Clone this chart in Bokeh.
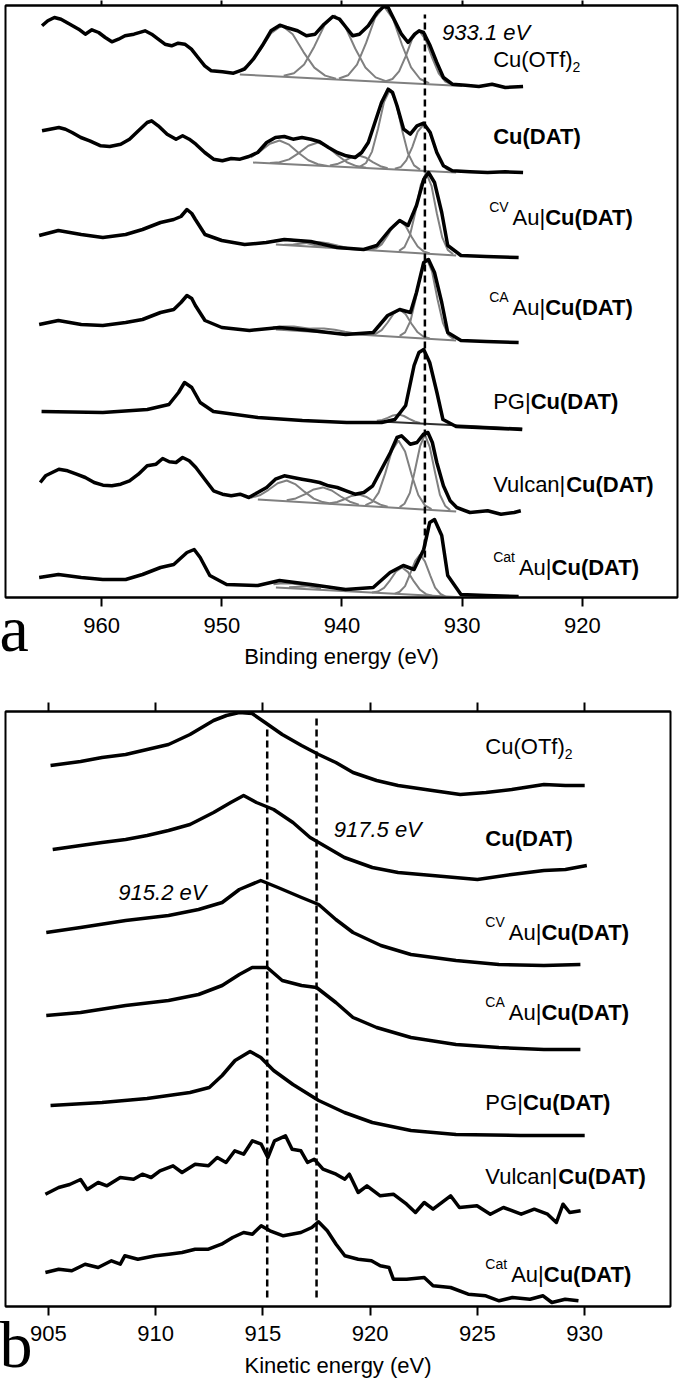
from bokeh.plotting import figure
from bokeh.models import Range1d, FixedTicker, LinearAxis
from bokeh.layouts import column
from bokeh.embed import file_html
from bokeh.resources import INLINE
from bokeh.core.properties import value

FONT = "Liberation Sans"
SERIF = "Liberation Serif"

# ---------------- panel a : Cu 2p XPS (binding energy, eV ; stacked intensity, a.u.) -------------
TICKS_A = [960, 950, 940, 930, 920]
TICKS_B = [905, 910, 915, 920, 925, 930]
MARK_A = [933.1]
MARK_B = [915.2, 917.5]

A1_E = [964.96, 964.48, 963.93, 963.38, 962.64, 961.91, 961.36, 960.81, 960.25, 959.70,
        959.15, 958.60, 958.05, 957.31, 956.39, 955.84, 955.29, 954.73, 954.18, 953.63,
        953.08, 952.53, 951.98, 951.42, 950.87, 949.95, 949.03, 948.11, 947.38, 946.64,
        945.91, 945.17, 944.62, 943.70, 942.96, 942.23, 941.49, 940.76, 940.20, 939.65,
        939.10, 938.55, 937.81, 937.08, 936.52, 936.16, 935.61, 935.05, 934.50, 933.95,
        933.58, 933.21, 932.66, 932.11, 931.56, 930.82, 929.72, 928.61, 927.51, 926.41, 924.93]
A1_I = [571.7, 576.7, 580.0, 578.3, 573.3, 568.3, 563.3, 567.7, 565.0, 560.0,
        555.7, 558.3, 561.7, 563.3, 566.7, 563.3, 558.3, 553.3, 551.7, 554.3,
        553.3, 548.3, 540.0, 531.7, 526.7, 525.7, 524.3, 528.3, 538.3, 551.7,
        566.7, 572.3, 570.0, 566.7, 561.7, 563.3, 573.3, 581.0, 578.3, 570.0,
        561.7, 563.3, 571.7, 585.0, 591.0, 590.0, 576.7, 563.3, 555.0, 563.3,
        566.7, 565.0, 551.7, 535.0, 520.0, 513.3, 512.3, 511.0, 513.3, 510.0, 511.0]
A1_FIT_E = [[948.6, 947.7, 946.8, 945.9, 945.0, 944.1, 943.2, 942.3, 941.4, 940.5],
            [944.85, 944.0, 943.15, 942.3, 941.45, 940.6, 939.75, 938.9, 938.05, 937.2, 936.35],
            [940.25, 939.5, 938.75, 938.0, 937.25, 936.5, 935.75, 935.0, 934.25, 933.5, 932.75],
            [936.35, 935.8, 935.25, 934.7, 934.15, 933.6, 933.05, 932.5, 931.95, 931.4, 930.85]]
A1_FIT_I = [[526.3, 533.2, 547.6, 564.4, 572.0, 563.3, 545.4, 529.9, 521.9, 518.8],
            [521.7, 524.3, 533.1, 551.1, 572.4, 582.0, 571.4, 549.0, 530.0, 520.1, 516.4],
            [519.0, 522.2, 532.9, 554.3, 579.5, 591.0, 578.5, 552.5, 530.1, 518.5, 514.4],
            [516.3, 518.5, 526.1, 541.2, 558.9, 567.0, 558.2, 539.8, 524.1, 515.8, 512.9]]
A1_BG_E = [948.5, 930.0]
A1_BG_I = [523.0, 511.5]

A2_E = [964.96, 964.30, 963.56, 963.01, 962.46, 961.73, 960.99, 960.07, 959.33, 958.41,
        957.68, 956.94, 956.21, 955.84, 955.29, 954.55, 953.81, 953.26, 952.71, 952.16,
        951.42, 950.69, 949.95, 949.22, 948.48, 947.75, 947.01, 946.27, 945.54, 944.80,
        944.07, 943.33, 942.59, 941.86, 941.12, 940.39, 939.65, 938.91, 938.36, 937.81,
        937.26, 936.71, 936.16, 935.79, 935.42, 934.87, 934.32, 933.76, 933.21, 932.66,
        932.11, 931.56, 930.82, 929.35, 927.88, 926.41, 924.93]
A2_I = [466.7, 468.3, 470.0, 468.3, 465.0, 460.0, 456.7, 451.7, 451.0, 453.3,
        458.3, 466.7, 475.0, 476.7, 471.7, 463.3, 458.3, 461.7, 458.3, 453.3,
        445.0, 438.3, 436.7, 439.0, 438.3, 441.0, 445.0, 455.0, 460.0, 461.0,
        458.3, 460.0, 458.3, 455.7, 450.0, 445.0, 441.7, 440.0, 445.0, 455.0,
        475.0, 495.0, 508.3, 505.0, 491.7, 468.3, 463.3, 471.7, 474.3, 465.0,
        445.0, 431.7, 426.7, 425.7, 425.0, 425.7, 425.0]
A2_FIT_E = [[947.6, 946.8, 946.0, 945.2, 944.4, 943.6, 942.8, 942.0, 941.2],
            [946.0, 945.2, 944.4, 943.6, 942.8, 942.0, 941.2, 940.4, 939.6, 938.8, 938.0],
            [941.0, 940.4, 939.8, 939.2, 938.6, 938.0, 937.4, 936.8, 936.2],
            [938.5, 938.0, 937.5, 937.0, 936.5, 936.0, 935.5, 935.0, 934.5, 934.0, 933.5],
            [935.6, 935.1, 934.65, 934.15, 933.7, 933.2, 932.7, 932.25, 931.75, 931.3, 930.8]]
A2_FIT_I = [[440.0, 446.3, 453.8, 457.0, 452.8, 444.5, 437.2, 433.3, 431.6],
            [434.5, 435.2, 438.1, 444.4, 451.8, 455.0, 450.8, 442.5, 435.3, 431.4, 429.8],
            [432.0, 433.4, 436.6, 440.4, 442.0, 439.7, 435.2, 431.3, 429.2],
            [430.8, 434.5, 445.9, 468.8, 495.6, 508.0, 495.0, 467.6, 444.1, 432.1, 427.9],
            [428.7, 430.6, 437.2, 450.4, 465.9, 473.0, 465.3, 449.3, 435.5, 428.4, 425.8]]
A2_BG_E = [947.4, 930.5]
A2_BG_I = [435.0, 425.0]

A3_E = [965.2, 963.6, 961.7, 959.9, 958.0, 956.6, 955.1, 954.0, 953.4, 952.9, 952.5, 952.2, 951.4, 950.0, 948.1,
        946.3, 944.8, 942.6, 940.4, 938.2, 937.1, 936.0, 935.2, 934.5, 933.8, 933.2, 932.8, 932.3, 931.7, 931.2,
        930.1, 928.0, 925.3]
A3_I = [362, 367, 363, 360, 363, 368, 375, 378, 381, 388, 384, 378, 363, 357, 353,
        355, 358, 356, 350, 348, 352, 368, 377, 372, 392, 418, 425, 415, 385, 352,
        342, 341, 340]
A3_FIT_E = [[945.8, 945.05, 944.3, 943.55, 942.8, 942.05, 941.3],
            [944.8, 944.05, 943.3, 942.55, 941.8, 941.05, 940.3, 939.55, 938.8],
            [937.7, 937.2, 936.7, 936.2, 935.7, 935.2, 934.7, 934.2, 933.7, 933.2, 932.7],
            [935.25, 934.8, 934.35, 933.9, 933.45, 933.0, 932.55, 932.1, 931.65, 931.2, 930.75]]
A3_FIT_I = [[356.2, 357.7, 358.1, 356.6, 354.0, 351.8, 350.3],
            [352.8, 353.0, 353.9, 355.0, 355.3, 353.9, 351.7, 349.6, 348.4],
            [347.7, 348.9, 353.1, 362.0, 372.3, 377.0, 371.6, 360.5, 351.0, 346.0, 344.0],
            [346.6, 350.3, 361.9, 385.1, 412.4, 424.9, 411.7, 383.8, 359.8, 347.6, 343.3]]
A3_BG_E = [945.5, 930.5]
A3_BG_I = [353.0, 342.0]

A4_E = [965.2, 963.6, 961.7, 959.9, 958.0, 956.6, 955.1, 954.0, 953.4, 952.9, 952.5, 952.2, 951.4, 950.0, 947.7,
        945.2, 942.6, 939.7, 937.4, 936.2, 935.2, 934.3, 933.8, 933.2, 932.8, 932.3, 931.7, 931.2, 930.1, 928.0,
        925.3]
A4_I = [273, 277, 273, 272, 275, 278, 285, 288, 295, 302, 299, 292, 277, 270, 267,
        270, 267, 263, 265, 282, 288, 285, 305, 335, 338, 325, 295, 265, 257, 256,
        255]
A4_FIT_E = [[945.75, 944.9, 944.0, 943.1, 942.25, 941.4],
            [944.1, 943.25, 942.4, 941.5, 940.6, 939.75, 938.9, 938.0],
            [937.7, 937.2, 936.7, 936.2, 935.7, 935.2, 934.7, 934.2, 933.7, 933.2, 932.7],
            [935.2, 934.75, 934.3, 933.85, 933.4, 932.95, 932.5, 932.05, 931.6, 931.15, 930.7]]
A4_FIT_I = [[270.2, 271.0, 270.9, 269.6, 267.6, 265.8],
            [267.8, 268.4, 269.1, 269.1, 267.8, 265.8, 264.0, 262.8],
            [262.7, 263.6, 267.3, 275.0, 283.9, 288.0, 283.2, 273.5, 265.2, 260.7, 259.0],
            [261.6, 265.1, 276.6, 299.5, 326.4, 338.8, 325.8, 298.1, 274.6, 262.5, 258.3]]
A4_BG_E = [945.5, 930.5]
A4_BG_I = [268.0, 257.0]

A5_E = [965.0, 959.9, 956.2, 954.4, 953.6, 953.1, 952.5, 951.8, 950.7, 947.0, 943.3, 939.6, 936.7, 935.6, 934.7,
        934.0, 933.6, 933.2, 932.7, 932.1, 931.6, 930.5, 925.0]
A5_I = [186, 185, 188, 193, 205, 215, 210, 195, 186, 180, 177, 175, 175, 178, 192,
        232, 245, 248, 235, 205, 178, 171, 168]
A5_FIT_E = [[937.1, 936.65, 936.2, 935.75, 935.3, 934.85, 934.4, 933.95, 933.5]]
A5_FIT_I = [[176.7, 177.6, 179.6, 182.1, 183.1, 181.5, 178.6, 176.0, 174.5]]
A5_BG_E = [936.8, 925.0]
A5_BG_I = [176.0, 169.0]

A6_E = [965.11, 964.67, 963.56, 962.83, 962.09, 961.36, 960.62, 959.89, 959.15, 958.41,
        957.68, 956.94, 956.21, 955.47, 954.92, 954.37, 953.81, 953.26, 952.71, 952.16,
        951.42, 950.69, 949.95, 949.22, 948.48, 947.75, 947.01, 946.27, 945.54, 944.80,
        944.07, 943.33, 942.59, 941.86, 941.12, 940.39, 939.65, 938.91, 938.18, 937.44,
        936.71, 935.97, 935.42, 935.05, 934.32, 933.76, 933.21, 932.85, 932.48, 932.11,
        931.56, 931.00, 930.45, 929.35, 927.88, 926.77, 925.67, 925.12]
A6_I = [115.0, 121.7, 128.3, 126.7, 123.3, 120.0, 115.0, 112.3, 111.7, 113.3,
        116.7, 123.3, 131.7, 133.3, 139.0, 135.7, 135.0, 140.0, 136.7, 130.0,
        118.3, 106.7, 103.3, 101.7, 103.3, 100.0, 105.0, 110.0, 118.3, 121.7,
        120.0, 118.3, 116.7, 115.0, 111.7, 110.0, 106.7, 103.3, 105.0, 111.7,
        128.3, 145.0, 160.0, 161.7, 153.3, 155.0, 163.3, 165.0, 155.0, 135.0,
        111.7, 96.7, 90.0, 85.0, 86.7, 83.3, 85.0, 86.7]
A6_FIT_E = [[947.6, 946.85, 946.1, 945.35, 944.6, 943.85, 943.1, 942.35, 941.6, 940.85],
            [944.6, 943.85, 943.1, 942.35, 941.6, 940.85, 940.1, 939.35, 938.6],
            [941.0, 940.4, 939.8, 939.2, 938.6, 938.0, 937.4, 936.8, 936.2],
            [938.05, 937.5, 936.95, 936.4, 935.85, 935.3, 934.75, 934.2, 933.65, 933.1, 932.55],
            [935.2, 934.8, 934.35, 933.95, 933.5, 933.1, 932.7, 932.25, 931.85, 931.4, 931.0]]
A6_FIT_I = [[99.7, 102.2, 107.7, 114.2, 117.0, 113.1, 105.6, 98.9, 95.4, 93.8],
            [97.3, 99.1, 103.2, 108.1, 110.1, 107.0, 101.0, 95.8, 92.9],
            [94.3, 95.5, 98.3, 101.6, 102.9, 100.8, 96.5, 92.9, 90.8],
            [92.4, 95.3, 104.9, 124.1, 146.7, 157.0, 145.9, 122.5, 102.5, 92.1, 88.4],
            [90.4, 93.8, 104.6, 126.0, 151.3, 162.9, 150.7, 124.8, 102.8, 91.4, 87.4]]
A6_BG_E = [947.0, 930.5]
A6_BG_I = [98.0, 86.0]

A7_E = [965.2, 963.6, 961.7, 959.9, 958.0, 956.6, 955.1, 954.0, 952.9, 952.3, 951.8, 951.0, 949.6, 947.0, 945.2,
        942.6, 939.7, 937.4, 936.0, 934.9, 934.0, 933.2, 932.7, 932.3, 931.7, 931.2, 930.1, 928.0, 925.3]
A7_I = [20, 23, 20, 18, 18, 23, 30, 33, 45, 48, 40, 22, 13, 12, 17,
        13, 8, 10, 25, 32, 28, 48, 75, 78, 62, 22, 3, 2, 1]
A7_FIT_E = [[945.7, 945.15, 944.3, 943.45, 942.6, 941.75],
            [944.4, 943.5, 942.65, 941.8, 940.95, 940.1, 939.2],
            [937.5, 937.0, 936.5, 936.0, 935.5, 935.0, 934.5, 934.0, 933.5, 933.0, 932.5],
            [935.6, 935.2, 934.75, 934.35, 933.9, 933.5, 933.1, 932.65, 932.25, 931.8, 931.4]]
A7_FIT_I = [[13.3, 14.1, 14.2, 12.8, 10.7, 8.7],
            [10.2, 10.8, 11.5, 11.5, 10.4, 8.5, 6.7],
            [5.1, 6.0, 9.7, 17.2, 26.0, 30.0, 25.4, 15.8, 7.7, 3.4, 1.7],
            [3.9, 5.7, 11.4, 23.0, 36.7, 43.0, 36.2, 21.9, 9.8, 3.5, 1.1]]
A7_BG_E = [945.5, 930.5]
A7_BG_I = [10.0, 0.5]

# ---------------- panel b : Cu LMM Auger (kinetic energy, eV ; stacked intensity, a.u.) ----------
B1_E = [905.1, 906.5, 907.5, 908.6, 909.6, 910.6, 911.6, 912.7, 913.3, 913.9, 914.5, 915.1, 915.9, 916.8, 917.6,
        918.4, 919.2, 920.3, 921.3, 922.9, 924.2, 925.4, 926.6, 928.1, 929.1, 930.0]
B1_I = [541, 545, 549, 552, 557, 562, 572, 586, 591, 594, 593, 584, 572, 561, 552,
        544, 534, 526, 521, 516, 512, 514, 517, 522, 521, 521]
B2_E = [905.2, 906.5, 907.5, 908.6, 909.6, 910.6, 911.6, 912.7, 913.5, 914.1, 914.7, 915.5, 916.4, 917.2, 918.0,
        918.8, 920.1, 921.3, 922.9, 925.0, 926.6, 928.1, 929.1, 930.1]
B2_I = [457, 461, 464, 467, 471, 476, 482, 494, 504, 511, 504, 497, 484, 469, 459,
        449, 439, 434, 431, 427, 432, 436, 437, 441]
B3_E = [904.9, 906.5, 908.6, 910.6, 912.0, 913.1, 913.9, 914.9, 915.7, 916.8, 917.6, 918.4, 919.2, 920.5, 921.9,
        924.0, 926.0, 928.1, 929.8]
B3_I = [374, 379, 386, 391, 397, 404, 417, 426, 419, 409, 402, 387, 374, 361, 352,
        346, 342, 341, 342]
B4_E = [904.9, 906.5, 908.6, 910.6, 912.0, 913.1, 913.9, 914.5, 915.2, 915.9, 916.8, 917.5, 918.4, 919.2, 920.3,
        921.9, 924.0, 926.0, 928.1, 929.8]
B4_I = [291, 294, 301, 306, 312, 321, 332, 339, 339, 326, 321, 319, 304, 289, 279,
        269, 262, 259, 257, 257]
B5_E = [905.1, 907.5, 909.6, 911.6, 912.5, 913.1, 913.7, 914.4, 914.9, 915.5, 916.4, 917.6, 918.8, 920.1, 921.9,
        924.0, 927.0, 930.0]
B5_I = [201, 204, 208, 214, 219, 231, 246, 255, 249, 236, 222, 206, 194, 184, 176,
        172, 171, 171]
B6_E = [904.86, 905.48, 905.99, 906.50, 906.81, 907.32, 907.73, 908.35, 908.97, 909.38,
        909.79, 910.20, 910.81, 911.23, 911.84, 912.46, 912.87, 913.28, 913.69, 914.10,
        914.51, 914.92, 915.23, 915.54, 916.05, 916.36, 916.77, 917.08, 917.39, 917.80,
        918.41, 918.82, 919.03, 919.44, 919.85, 920.47, 921.08, 921.70, 922.11, 922.52,
        922.93, 923.75, 924.16, 924.98, 925.60, 926.21, 927.04, 927.65, 928.27, 928.68,
        928.99, 929.30, 929.81]
B6_I = [112.3, 119.0, 122.0, 127.0, 117.0, 124.0, 120.7, 129.0, 127.3, 132.3,
        129.0, 135.7, 140.7, 134.0, 142.3, 140.7, 149.0, 144.0, 155.7, 152.3,
        165.7, 162.3, 149.0, 165.7, 170.7, 157.3, 155.7, 144.0, 147.3, 137.3,
        132.3, 127.3, 132.3, 114.0, 120.7, 110.7, 112.3, 102.3, 94.0, 104.0,
        97.3, 110.7, 99.0, 100.7, 92.3, 99.0, 92.3, 97.3, 92.3, 84.0,
        102.3, 94.0, 95.7]
B7_E = [904.86, 905.48, 906.09, 906.71, 907.32, 907.94, 908.35, 908.56, 909.17, 909.99,
        910.61, 911.23, 911.84, 912.46, 913.07, 913.59, 914.10, 914.51, 914.92, 915.33,
        915.95, 916.77, 917.28, 917.59, 918.00, 918.41, 918.82, 919.44, 920.06, 920.47,
        920.88, 921.08, 921.70, 922.52, 922.93, 923.75, 924.57, 925.39, 926.01, 926.63,
        927.45, 928.06, 928.47, 929.09, 929.71]
B7_I = [34.0, 37.3, 35.7, 42.3, 39.0, 45.7, 42.3, 50.7, 47.3, 50.7,
        52.3, 54.0, 57.3, 57.3, 62.3, 69.0, 74.0, 72.3, 80.7, 75.7,
        70.7, 74.0, 79.0, 84.7, 75.7, 62.3, 50.7, 47.3, 45.7, 40.7,
        39.0, 27.3, 27.3, 29.0, 20.7, 19.0, 12.3, 10.7, 5.7, 9.0,
        7.3, 10.7, 4.0, 7.3, 5.7]

# sample names: (superscript, regular, bold, subscript)
NAMES = [("", "Cu(OTf)", "", "2"),
         ("", "", "Cu(DAT)", ""),
         ("CV", "Au|", "Cu(DAT)", ""),
         ("CA", "Au|", "Cu(DAT)", ""),
         ("", "PG|", "Cu(DAT)", ""),
         ("", "Vulcan|", "Cu(DAT)", ""),
         ("Cat", "Au|", "Cu(DAT)", "")]

# ---------------- layout constants ----------------
NAME_Y_A = [538, 461, 380, 290, 196, 113, 30]
NAME_Y_B = [560, 468, 374, 294, 204, 130, 32]
NAME_X_A = 927.42
NAME_X_B = 925.37

REG_W = {'C': 722, 'u': 556, '(': 333, 'O': 778, 'T': 611, 'f': 278, ')': 333, 'A': 667, '|': 260, 'P': 667,
         'G': 778, 'V': 667, 'l': 222, 'c': 500, 'a': 556, 'n': 556, 't': 278, 'D': 722}
BOLD_W = {'C': 722, 'u': 611, '(': 333, 'D': 722, 'A': 722, 'T': 611, ')': 333}


def tw(s, size, bold=False):
    tab = BOLD_W if bold else REG_W
    return sum(tab.get(ch, 556) for ch in s) * size / 1000.0


FS = 22
SFS = 14


def put(p, x, y, txt, dx=0, dy=0, size=FS, style="normal", font=FONT):
    p.text(x=[x], y=[y], text=[txt], x_offset=dx, y_offset=dy, text_font=value(font),
           text_font_size=f"{size}px", text_font_style=style, text_color="black",
           text_align="left", text_baseline="middle")


def draw_name(p, x, y, parts, sup_dx):
    sup, reg, bold, sub = parts
    dx = 0
    if sup:
        put(p, x, y, sup, dx=sup_dx, dy=-11, size=SFS)
        dx = sup_dx + tw(sup, SFS) + 4
    if reg:
        put(p, x, y, reg, dx=dx)
        dx += tw(reg, FS)
    if bold:
        put(p, x, y, bold, dx=dx, style="bold")
        dx += tw(bold, FS, True)
    if sub:
        put(p, x, y, sub, dx=dx, dy=7, size=SFS)


def make_fig(xr, yr, fw, fh, mtop, mbottom, mright, ticks, xlabel, tick_top, tick_bottom, lab_sd, title_sd):
    p = figure(x_range=Range1d(*xr), y_range=Range1d(*yr), frame_width=fw, frame_height=fh,
               output_backend="svg", toolbar_location=None, min_border_left=5, min_border_right=mright,
               min_border_top=mtop, min_border_bottom=mbottom)
    p.yaxis.visible = False
    p.grid.visible = False
    p.outline_line_color = "black"
    p.outline_line_width = 2
    p.background_fill_color = "white"
    p.border_fill_color = "white"
    ax = p.xaxis[0]
    ax.ticker = FixedTicker(ticks=ticks)
    ax.major_tick_out = tick_bottom
    ax.major_tick_in = 0
    ax.major_tick_line_width = 2
    ax.minor_tick_line_color = None
    ax.axis_line_width = 2
    ax.major_label_text_font = FONT
    ax.major_label_text_font_size = "22px"
    ax.major_label_text_color = "black"
    ax.major_label_standoff = lab_sd
    ax.axis_label = xlabel
    ax.axis_label_text_font = FONT
    ax.axis_label_text_font_size = "22px"
    ax.axis_label_text_font_style = "normal"
    ax.axis_label_text_color = "black"
    ax.axis_label_standoff = title_sd
    top = LinearAxis(ticker=FixedTicker(ticks=ticks), major_tick_out=tick_top, major_tick_in=0,
                     major_tick_line_width=2, minor_tick_line_color=None, axis_line_width=2,
                     major_label_text_font_size="1px", major_label_text_color=None,
                     major_label_standoff=0)
    p.add_layout(top, "above")
    return p


LETTER_H = 110


def letter_fig(ch, mid):
    # transparent overlay carrying the panel letter, pulled up over the panel's lower-left corner
    f = figure(width=50, height=LETTER_H, x_range=Range1d(0, 50), y_range=Range1d(0, LETTER_H),
               output_backend="svg", toolbar_location=None, min_border=0,
               x_axis_type=None, y_axis_type=None,
               background_fill_color=None, border_fill_color=None, outline_line_color=None)
    f.grid.visible = False
    put(f, 0, mid, ch, size=66, font=SERIF)
    f.margin = (-LETTER_H, 0, 0, -6)
    return f


LW = 3.5

# ---------------- panel a ----------------
pa = make_fig((968.0, 912.08), (0, 592), 672, 592, 5, 85, 3, TICKS_A, "Binding energy (eV)", 5, 9, 11, 8)
GRAY = "#808080"
for fe, fi, be, bi, bgc in [(A1_FIT_E, A1_FIT_I, A1_BG_E, A1_BG_I, GRAY),
                            (A2_FIT_E, A2_FIT_I, A2_BG_E, A2_BG_I, GRAY),
                            (A3_FIT_E, A3_FIT_I, A3_BG_E, A3_BG_I, GRAY),
                            (A4_FIT_E, A4_FIT_I, A4_BG_E, A4_BG_I, GRAY),
                            (A5_FIT_E, A5_FIT_I, A5_BG_E, A5_BG_I, "#303030"),
                            (A6_FIT_E, A6_FIT_I, A6_BG_E, A6_BG_I, GRAY),
                            (A7_FIT_E, A7_FIT_I, A7_BG_E, A7_BG_I, GRAY)]:
    pa.multi_line(xs=fe, ys=fi, line_color=GRAY, line_width=2)
    pa.line(be, bi, line_color=bgc, line_width=2)
for e, i in [(A1_E, A1_I), (A2_E, A2_I), (A3_E, A3_I), (A4_E, A4_I), (A5_E, A5_I), (A6_E, A6_I), (A7_E, A7_I)]:
    pa.line(e, i, line_color="black", line_width=LW, line_join="round")
pa.segment(x0=MARK_A, y0=[40] * len(MARK_A), x1=MARK_A, y1=[583] * len(MARK_A),
           line_color="black", line_width=2.5, line_dash="7 4")
put(pa, 931.67, 565, "933.1 eV", style="italic")
for k, parts in enumerate(NAMES):
    draw_name(pa, NAME_X_A, NAME_Y_A[k], parts, -4 if parts[0] in ("CV", "CA") else 0)

# ---------------- panel b ----------------
pb = make_fig((903.0, 934.0), (0, 595), 665, 595, 29, 75, 10, TICKS_B, "Kinetic energy (eV)", 9, 9, 10, 9)
for e, i in [(B1_E, B1_I), (B2_E, B2_I), (B3_E, B3_I), (B4_E, B4_I), (B5_E, B5_I), (B6_E, B6_I), (B7_E, B7_I)]:
    pb.line(e, i, line_color="black", line_width=LW, line_join="round")
pb.segment(x0=MARK_B, y0=[9, 9], x1=MARK_B, y1=[581, 592],
           line_color="black", line_width=2.5, line_dash="7 4")
put(pb, 918.30, 477, "917.5 eV", style="italic")
put(pb, 908.26, 414, "915.2 eV", style="italic")
for k, parts in enumerate(NAMES):
    draw_name(pb, NAME_X_B, NAME_Y_B[k], parts, 0)

fa = letter_fig("a", 54)
fb = letter_fig("b", 37)

layout = column(pa, fa, pb, fb)
open("out.html", "w").write(file_html(layout, INLINE))
